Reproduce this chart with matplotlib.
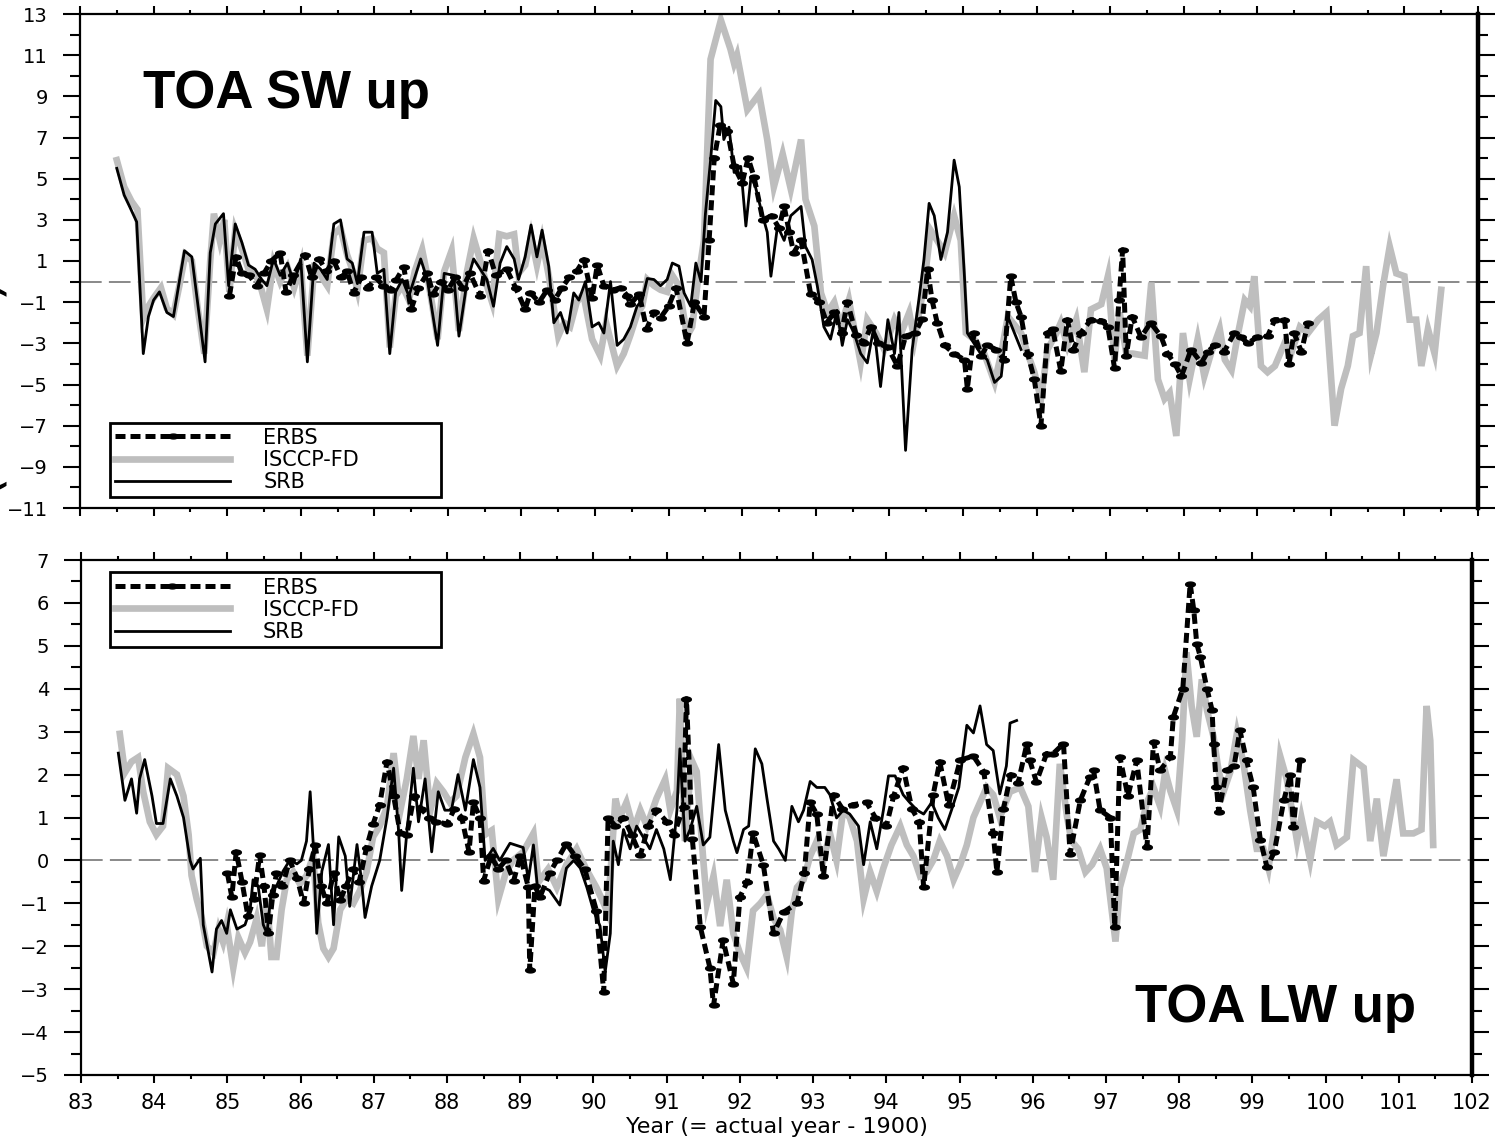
import matplotlib
matplotlib.use("Agg")
import matplotlib.pyplot as plt
import numpy as np
from matplotlib.lines import Line2D
from matplotlib.path import Path
from matplotlib.ticker import MultipleLocator

# ---------------- data: (year - 1900, anomaly) ----------------
# TOA SW up
sw_isccp = [
    (83.50, 5.9), (83.60, 4.6), (83.70, 3.9), (83.78, 3.5), (83.86, -1.8), (83.93, -1.2), (84.00, -0.8),
    (84.10, -0.3), (84.18, -1.3), (84.27, -1.6), (84.35, -0.2), (84.43, 1.3), (84.52, 1.0), (84.60, -1.3),
    (84.69, -3.5), (84.77, 1.0), (84.82, 3.3), (84.90, 2.0), (84.96, 3.0), (85.03, -0.5), (85.11, 2.5),
    (85.20, 1.6), (85.29, 0.6), (85.38, 0.4), (85.46, -0.3), (85.54, -1.35), (85.63, 0.9), (85.72, 0.0),
    (85.82, 0.7), (85.91, -0.3), (86.00, 0.8), (86.09, -3.6), (86.18, 0.6), (86.27, 0.3), (86.36, -0.2),
    (86.45, 2.3), (86.54, 2.6), (86.63, 1.3), (86.70, 0.6), (86.77, -0.4), (86.86, 2.0), (86.97, 2.1),
    (87.04, 1.6), (87.13, 1.4), (87.21, -3.2), (87.29, -0.7), (87.38, -0.2), (87.47, -0.9), (87.55, 0.5),
    (87.65, 1.55), (87.72, 0.3), (87.79, -1.2), (87.86, -2.8), (87.95, 0.5), (88.05, 1.5), (88.15, -2.4),
    (88.26, 0.5), (88.35, 2.1), (88.44, 1.0), (88.53, -0.2), (88.60, -1.0), (88.70, 2.3), (88.80, 2.2),
    (88.90, 2.3), (88.96, 0.4), (89.05, 0.8), (89.13, 2.2), (89.21, 0.8), (89.28, 2.0), (89.37, 0.3),
    (89.50, -2.65), (89.58, -2.0), (89.66, -2.2), (89.75, -1.0), (89.84, -0.6), (89.96, -2.8), (90.07, -3.6),
    (90.15, -2.0), (90.30, -4.1), (90.39, -3.5), (90.48, -2.6), (90.57, -1.6), (90.64, -1.2), (90.71, 0.1),
    (90.80, -0.2), (90.89, -0.4), (90.98, -0.5), (91.05, 0.3), (91.14, -0.2), (91.25, -2.65), (91.32, -2.2),
    (91.40, 0.1), (91.48, 2.0), (91.57, 10.8), (91.71, 12.7), (91.84, 11.3), (91.89, 10.6), (91.93, 11.0),
    (92.07, 8.35), (92.23, 9.1), (92.34, 6.9), (92.43, 4.6), (92.55, 6.2), (92.66, 4.5), (92.80, 6.9),
    (92.86, 4.0), (92.98, 2.7), (93.07, -0.55), (93.16, -1.5), (93.25, -1.0), (93.34, -2.2), (93.45, -0.9),
    (93.61, -3.95), (93.70, -1.85), (93.82, -2.5), (93.93, -3.3), (94.07, -1.85), (94.16, -2.5), (94.27, -1.5),
    (94.34, -2.8), (94.47, -0.2), (94.56, 2.5), (94.65, 2.0), (94.75, 1.4), (94.88, 3.2), (94.97, 2.0),
    (95.04, -2.5), (95.15, -2.8), (95.29, -3.5), (95.43, -4.9), (95.52, -3.5), (95.61, -1.7), (95.79, -2.5),
    (95.88, -3.5), (95.97, -4.4), (96.06, -5.7), (96.15, -3.3), (96.27, -2.5), (96.33, -2.0), (96.42, -3.1),
    (96.54, -1.85), (96.65, -4.4), (96.74, -1.35), (96.88, -1.1), (96.97, 0.26), (97.06, -3.8), (97.13, -1.5),
    (97.22, -3.5), (97.31, -3.5), (97.47, -3.6), (97.56, -0.05), (97.65, -4.75), (97.74, -5.7), (97.81, -5.4),
    (97.90, -7.5), (97.99, -2.5), (98.08, -4.75), (98.19, -2.8), (98.28, -4.6), (98.37, -3.5), (98.49, -2.3),
    (98.56, -3.8), (98.65, -4.3), (98.74, -2.5), (98.83, -0.9), (98.90, -1.2), (98.96, 0.26), (99.05, -4.1),
    (99.14, -4.4), (99.24, -4.1), (99.37, -3.0), (99.46, -3.5), (99.58, -2.2), (99.69, -2.5), (99.83, -1.85),
    (99.94, -1.5), (100.05, -7.0), (100.14, -5.2), (100.23, -4.1), (100.30, -2.65), (100.39, -2.5),
    (100.48, 0.75), (100.55, -3.5), (100.62, -2.5), (100.71, -0.2), (100.80, 1.7), (100.89, 0.4),
    (101.00, 0.26), (101.07, -1.85), (101.16, -1.85), (101.23, -4.1), (101.32, -2.3), (101.41, -3.5),
    (101.50, -0.4),
]

sw_srb = [
    (83.50, 5.5), (83.60, 4.2), (83.68, 3.6), (83.77, 2.9), (83.86, -3.5), (83.93, -1.7), (84.00, -0.9),
    (84.08, -0.5), (84.18, -1.5), (84.27, -1.7), (84.42, 1.5), (84.52, 1.2), (84.70, -3.9), (84.77, 1.4),
    (84.84, 2.8), (84.95, 3.3), (85.02, -0.2), (85.11, 2.8), (85.20, 1.9), (85.29, 0.8), (85.38, 0.6),
    (85.47, 0.1), (85.54, -0.2), (85.63, 1.1), (85.72, 0.3), (85.82, 0.9), (85.91, -0.1), (86.00, 1.1),
    (86.09, -3.9), (86.18, 0.9), (86.27, 0.6), (86.36, 0.1), (86.45, 2.8), (86.54, 3.0), (86.63, 1.1),
    (86.70, 0.9), (86.77, -0.1), (86.86, 2.4), (86.97, 2.4), (87.04, 0.4), (87.13, 0.6), (87.21, -3.5),
    (87.29, -0.5), (87.38, 0.1), (87.47, -0.7), (87.55, 0.2), (87.63, 1.1), (87.72, 0.1), (87.79, -1.5),
    (87.86, -3.1), (87.95, 0.4), (88.08, 0.3), (88.15, -2.65), (88.26, 0.0), (88.35, 1.1), (88.44, 0.6),
    (88.53, 0.1), (88.62, -1.2), (88.71, 0.9), (88.80, 1.7), (88.90, 1.1), (88.96, 0.1), (89.05, 1.2),
    (89.13, 2.75), (89.21, 1.2), (89.28, 2.5), (89.37, 0.75), (89.44, -2.0), (89.53, -1.5), (89.62, -2.5),
    (89.71, -0.55), (89.78, -0.9), (89.87, 0.0), (89.96, -2.2), (90.05, -2.0), (90.12, -2.5), (90.21, 0.0),
    (90.30, -3.1), (90.39, -2.8), (90.48, -2.2), (90.57, -1.2), (90.64, -0.9), (90.71, 0.15), (90.80, 0.1),
    (90.89, -0.2), (90.98, 0.1), (91.05, 0.9), (91.14, 0.75), (91.21, -0.55), (91.30, -1.2), (91.37, 0.9),
    (91.44, 0.0), (91.50, 3.3), (91.57, 5.9), (91.64, 8.8), (91.71, 8.5), (91.75, 6.9), (91.82, 7.5),
    (91.89, 5.3), (91.98, 5.6), (92.05, 2.7), (92.12, 5.1), (92.18, 4.6), (92.27, 3.3), (92.34, 2.4),
    (92.39, 0.26), (92.48, 2.7), (92.57, 2.0), (92.66, 3.2), (92.80, 3.65), (92.86, 1.7), (92.95, 1.07),
    (93.02, -0.2), (93.11, -2.2), (93.20, -2.8), (93.29, -1.4), (93.36, -3.1), (93.43, -1.85), (93.52, -2.5),
    (93.61, -3.5), (93.70, -3.95), (93.79, -2.2), (93.88, -5.1), (93.98, -1.85), (94.07, -3.5), (94.13, -1.5),
    (94.22, -8.2), (94.31, -3.3), (94.40, -0.9), (94.47, 1.07), (94.54, 3.8), (94.61, 3.2), (94.70, 1.07),
    (94.79, 2.4), (94.88, 5.9), (94.95, 4.6), (95.02, 0.26), (95.06, -2.5), (95.15, -3.0), (95.24, -3.5),
    (95.33, -3.8), (95.43, -4.9), (95.52, -4.6), (95.61, -1.7), (95.70, -2.5), (95.79, -3.3),
]

sw_erbs = [
    (85.03, -0.7), (85.12, 1.2), (85.20, 0.4), (85.30, 0.3), (85.40, -0.2), (85.50, 0.4), (85.60, 1.0),
    (85.72, 1.4), (85.80, -0.5), (85.90, 0.3), (86.06, 1.3), (86.15, 0.2), (86.25, 1.1), (86.35, 0.5),
    (86.45, 1.0), (86.55, 0.2), (86.63, 0.5), (86.72, -0.55), (86.82, 0.2), (86.92, -0.3), (87.02, 0.2),
    (87.12, -0.2), (87.22, -0.4), (87.30, 0.1), (87.40, 0.7), (87.50, -1.35), (87.60, -0.3), (87.72, 0.4),
    (87.80, -0.6), (87.90, 0.0), (88.00, -0.4), (88.10, 0.2), (88.20, -0.3), (88.30, 0.4), (88.44, -0.7),
    (88.55, 1.5), (88.65, 0.3), (88.80, 0.6), (88.92, -0.3), (89.05, -1.35), (89.12, -0.55), (89.24, -1.0),
    (89.35, -0.4), (89.45, -0.9), (89.55, -0.3), (89.65, 0.2), (89.75, 0.5), (89.85, 1.07), (89.96, -0.8),
    (90.03, 0.8), (90.12, -0.2), (90.25, -0.4), (90.35, -0.3), (90.44, -0.7), (90.48, -1.1), (90.60, -0.6),
    (90.70, -2.3), (90.80, -1.5), (90.89, -1.75), (91.00, -1.2), (91.10, -0.3), (91.25, -3.0), (91.35, -1.0),
    (91.48, -1.7), (91.55, 2.0), (91.62, 6.0), (91.70, 7.6), (91.80, 7.3), (91.89, 5.6), (92.00, 4.8),
    (92.08, 6.0), (92.16, 5.1), (92.28, 3.0), (92.40, 3.2), (92.50, 2.6), (92.57, 3.65), (92.64, 2.4),
    (92.70, 1.4), (92.80, 2.0), (92.93, -0.6), (93.05, -1.0), (93.15, -2.0), (93.25, -1.5), (93.35, -2.5),
    (93.43, -1.0), (93.55, -2.6), (93.65, -3.0), (93.75, -2.2), (93.85, -3.0), (93.98, -3.2), (94.11, -4.1),
    (94.22, -2.65), (94.35, -2.5), (94.45, -1.8), (94.52, 0.6), (94.58, -0.9), (94.65, -2.0), (94.75, -3.1),
    (94.88, -3.5), (95.02, -3.8), (95.06, -5.2), (95.15, -2.5), (95.25, -3.6), (95.33, -3.1), (95.45, -3.3),
    (95.56, -3.8), (95.65, 0.26), (95.72, -1.0), (95.79, -1.7), (95.88, -3.5), (95.97, -4.75), (96.06, -7.0),
    (96.15, -2.5), (96.22, -2.3), (96.33, -4.35), (96.42, -1.85), (96.50, -3.3), (96.60, -2.5), (96.74, -1.85),
    (96.88, -1.9), (96.97, -2.2), (97.06, -4.2), (97.12, -0.9), (97.17, 1.55), (97.22, -3.6), (97.30, -1.7),
    (97.42, -2.7), (97.55, -2.0), (97.69, -2.65), (97.78, -3.5), (97.88, -4.0), (97.97, -4.6), (98.10, -3.3),
    (98.24, -3.95), (98.33, -3.4), (98.42, -3.1), (98.55, -3.4), (98.69, -2.5), (98.78, -2.7), (98.87, -3.0),
    (99.00, -2.7), (99.14, -2.65), (99.24, -1.85), (99.37, -1.85), (99.43, -4.0), (99.50, -2.5), (99.60, -3.4),
    (99.69, -2.0),
]

# TOA LW up
lw_isccp = [
    (83.53, 2.95), (83.60, 2.05), (83.69, 2.3), (83.78, 2.4), (83.85, 1.6), (83.94, 0.9), (84.03, 0.6),
    (84.12, 0.8), (84.19, 2.15), (84.31, 2.0), (84.40, 1.5), (84.47, 0.6), (84.51, -0.35), (84.58, -0.9),
    (84.65, -1.35), (84.72, -2.0), (84.81, -2.15), (84.88, -1.6), (84.94, -1.9), (84.99, -1.5), (85.08, -2.5),
    (85.15, -1.8), (85.24, -2.15), (85.31, -1.9), (85.40, -1.35), (85.47, -2.0), (85.54, -0.9), (85.60, -2.25),
    (85.67, -2.25), (85.74, -1.15), (85.81, -0.45), (85.90, -0.27), (85.99, -0.55), (86.08, -0.36), (86.17, 0.1),
    (86.24, -1.45), (86.31, -2.05), (86.38, -2.25), (86.45, -2.05), (86.54, -1.15), (86.63, -0.9), (86.72, -1.0),
    (86.81, -0.7), (86.90, -0.27), (86.99, 0.55), (87.08, 0.8), (87.18, 1.25), (87.27, 2.5), (87.36, 1.15),
    (87.45, 1.9), (87.54, 2.9), (87.61, 1.9), (87.68, 2.8), (87.77, 1.15), (87.86, 1.8), (87.95, 1.6),
    (88.04, 1.35), (88.13, 1.5), (88.25, 2.4), (88.36, 2.95), (88.45, 2.4), (88.52, 0.6), (88.61, 0.7),
    (88.70, -0.9), (88.80, -0.3), (88.90, 0.0), (89.04, 0.2), (89.18, 0.63), (89.25, -0.5), (89.38, -0.2),
    (89.50, -0.63), (89.63, -0.1), (89.77, 0.27), (89.90, -0.2), (90.04, -0.63), (90.14, -1.0), (90.18, -1.17),
    (90.23, -0.36), (90.30, 1.44), (90.36, 1.0), (90.45, 1.35), (90.55, 0.72), (90.64, 1.17), (90.73, 0.8),
    (90.86, 1.44), (90.98, 1.89), (91.05, 1.17), (91.14, 1.62), (91.18, 3.77), (91.25, 0.45), (91.34, 2.34),
    (91.41, 2.07), (91.50, 0.0), (91.55, -1.0), (91.64, -0.36), (91.73, -1.53), (91.82, -0.45), (91.91, -1.7),
    (92.00, -2.16), (92.09, -2.5), (92.18, -1.17), (92.28, -1.0), (92.37, -0.8), (92.46, -1.35), (92.55, -1.62),
    (92.64, -2.25), (92.71, -1.17), (92.78, -0.63), (92.87, -0.45), (92.96, 0.1), (93.05, 0.45), (93.14, 0.0),
    (93.23, 0.63), (93.32, 0.0), (93.41, 1.17), (93.50, 1.0), (93.60, 0.45), (93.69, -0.9), (93.78, -0.27),
    (93.87, -0.72), (93.96, -0.18), (94.07, 0.36), (94.19, 0.8), (94.28, 0.36), (94.37, 0.1), (94.46, -0.36),
    (94.55, -0.27), (94.64, 0.0), (94.73, 0.45), (94.83, 0.1), (94.92, -0.45), (95.01, -0.1), (95.10, 0.36),
    (95.19, 1.0), (95.28, 1.35), (95.37, 1.7), (95.46, 1.53), (95.55, 1.0), (95.69, 1.6), (95.83, 1.7),
    (95.94, 1.26), (96.03, -0.27), (96.12, 1.0), (96.19, 0.54), (96.28, -0.45), (96.37, 2.25), (96.47, 1.0),
    (96.53, 0.45), (96.62, 0.27), (96.72, -0.27), (96.81, -0.1), (96.92, 0.27), (97.01, -0.18), (97.08, -1.17),
    (97.13, -1.89), (97.19, -0.63), (97.29, 0.0), (97.38, 0.63), (97.47, 0.72), (97.56, 1.35), (97.65, 1.7),
    (97.74, 1.26), (97.81, 2.07), (97.88, 1.62), (97.97, 1.17), (98.04, 2.79), (98.10, 4.85), (98.17, 3.6),
    (98.24, 2.88), (98.31, 4.22), (98.38, 3.5), (98.47, 2.88), (98.54, 2.07), (98.61, 1.62), (98.70, 2.07),
    (98.79, 2.97), (98.88, 2.25), (98.97, 1.17), (99.06, 0.27), (99.15, 0.27), (99.22, -0.18), (99.29, 0.63),
    (99.38, 2.43), (99.47, 1.89), (99.54, 1.17), (99.61, 0.45), (99.67, 1.0), (99.79, 0.0), (99.88, 0.9),
    (99.99, 0.8), (100.06, 0.9), (100.15, 0.36), (100.29, 0.54), (100.38, 2.34), (100.52, 2.16), (100.61, 0.45),
    (100.70, 1.44), (100.79, 0.1), (100.88, 1.0), (100.97, 1.89), (101.06, 0.63), (101.20, 0.63), (101.31, 0.72),
    (101.38, 3.6), (101.43, 2.79), (101.47, 0.36),
]

lw_srb = [
    (83.51, 2.5), (83.60, 1.4), (83.69, 1.9), (83.76, 1.1), (83.80, 1.9), (83.87, 2.35), (83.97, 1.5),
    (84.03, 0.86), (84.12, 0.86), (84.22, 1.9), (84.31, 1.5), (84.40, 1.0), (84.49, 0.0), (84.53, -0.2),
    (84.63, 0.05), (84.67, -1.5), (84.79, -2.6), (84.85, -1.6), (84.92, -1.4), (84.99, -1.7), (85.04, -1.15),
    (85.13, -1.6), (85.24, -1.5), (85.31, -1.15), (85.35, -0.45), (85.42, -0.6), (85.49, -1.5), (85.54, -1.7),
    (85.60, -0.7), (85.67, -0.6), (85.76, -0.25), (85.85, 0.0), (85.95, -0.08), (86.01, 0.0), (86.08, 0.45),
    (86.13, 1.6), (86.17, 0.45), (86.22, -1.7), (86.29, -0.25), (86.38, 0.37), (86.45, -1.5), (86.52, 0.55),
    (86.61, 0.1), (86.67, -1.07), (86.77, 0.37), (86.83, -0.45), (86.88, -1.33), (86.97, -0.6), (87.08, 0.0),
    (87.18, 1.0), (87.27, 2.15), (87.34, 0.64), (87.38, -0.7), (87.45, 0.64), (87.54, 2.15), (87.61, 0.9),
    (87.70, 1.9), (87.79, 0.2), (87.88, 1.6), (87.97, 1.17), (88.06, 1.17), (88.15, 2.0), (88.25, 1.17),
    (88.36, 2.35), (88.45, 1.7), (88.52, 0.0), (88.63, 0.28), (88.72, 0.0), (88.86, 0.4), (89.04, 0.3),
    (89.11, -0.45), (89.18, 0.36), (89.25, -0.9), (89.32, -0.63), (89.40, -0.7), (89.54, -1.04), (89.63, -0.18),
    (89.73, 0.0), (89.82, -0.18), (89.91, -0.63), (90.00, -1.17), (90.09, -1.53), (90.16, -2.6), (90.23, -1.7),
    (90.27, 0.45), (90.34, -0.1), (90.41, 0.72), (90.50, 0.27), (90.59, 0.8), (90.68, 0.54), (90.77, 0.27),
    (90.86, 0.72), (90.96, 0.27), (91.05, -0.45), (91.14, 1.17), (91.18, 2.6), (91.25, 0.45), (91.32, 0.72),
    (91.41, 1.26), (91.50, 0.36), (91.59, 0.54), (91.71, 2.7), (91.80, 1.17), (91.91, 0.45), (91.96, 0.18),
    (92.05, 0.72), (92.12, 0.8), (92.21, 2.6), (92.30, 2.25), (92.37, 1.44), (92.46, 0.45), (92.53, 0.27),
    (92.62, 0.0), (92.71, 1.26), (92.80, 0.9), (92.87, 1.17), (92.96, 1.84), (93.05, 1.7), (93.16, 1.7),
    (93.23, 1.53), (93.32, 0.99), (93.41, 1.17), (93.50, 1.08), (93.62, 0.8), (93.69, -0.1), (93.78, 0.9),
    (93.87, 0.27), (93.96, 1.17), (94.03, 1.97), (94.12, 1.97), (94.23, 1.53), (94.32, 1.35), (94.42, 1.17),
    (94.51, 1.08), (94.62, 1.35), (94.71, 0.99), (94.80, 0.72), (94.89, 1.17), (94.99, 1.7), (95.05, 2.5),
    (95.10, 3.15), (95.19, 2.97), (95.28, 3.6), (95.37, 2.7), (95.46, 2.56), (95.55, 1.55), (95.64, 2.2),
    (95.69, 3.2), (95.78, 3.26),
]

lw_erbs = [
    (85.00, -0.3), (85.06, -0.85), (85.12, 0.2), (85.20, -0.5), (85.28, -1.3), (85.36, -0.9), (85.44, 0.12),
    (85.50, -0.6), (85.56, -1.7), (85.62, -0.8), (85.67, -0.3), (85.75, -0.6), (85.85, 0.0), (85.95, -0.4),
    (86.04, -1.0), (86.12, -0.2), (86.20, 0.35), (86.28, -0.6), (86.36, -1.0), (86.45, -0.3), (86.54, -0.93),
    (86.62, -0.6), (86.72, -0.2), (86.80, -0.5), (86.90, 0.3), (86.99, 0.85), (87.08, 1.3), (87.18, 2.3),
    (87.27, 1.5), (87.36, 0.64), (87.45, 0.6), (87.55, 1.5), (87.65, 1.2), (87.75, 1.0), (87.85, 0.9),
    (88.00, 0.85), (88.10, 1.2), (88.20, 1.0), (88.30, 0.2), (88.36, 1.35), (88.45, 1.0), (88.50, -0.47),
    (88.60, 0.1), (88.70, -0.2), (88.80, 0.0), (88.91, -0.47), (89.00, 0.1), (89.11, -0.62), (89.13, -2.56),
    (89.20, -0.6), (89.27, -0.85), (89.40, -0.3), (89.50, 0.0), (89.63, 0.39), (89.75, 0.1), (89.88, -0.2),
    (90.04, -1.17), (90.14, -3.07), (90.20, 1.0), (90.30, 0.8), (90.41, 1.0), (90.52, 0.6), (90.64, 0.12),
    (90.75, 0.8), (90.86, 1.17), (91.00, 0.9), (91.10, 0.6), (91.23, 1.24), (91.27, 3.77), (91.35, 0.5),
    (91.46, -1.55), (91.59, -2.5), (91.64, -3.38), (91.77, -1.86), (91.91, -2.87), (92.00, -0.85), (92.10, -0.5),
    (92.18, 0.63), (92.32, -0.1), (92.46, -1.7), (92.60, -1.2), (92.78, -1.0), (92.88, -0.3), (92.96, 1.35),
    (93.05, 1.08), (93.14, -0.36), (93.28, 1.53), (93.40, 1.2), (93.55, 1.3), (93.73, 1.35), (93.85, 1.0),
    (94.00, 0.8), (94.10, 1.5), (94.23, 2.16), (94.35, 1.2), (94.45, 0.9), (94.51, -0.63), (94.64, 1.53),
    (94.73, 2.3), (94.85, 1.3), (95.01, 2.34), (95.19, 2.43), (95.33, 2.07), (95.46, 0.63), (95.51, -0.27),
    (95.60, 1.2), (95.70, 2.0), (95.80, 1.8), (95.92, 2.72), (95.96, 2.33), (96.05, 1.83), (96.19, 2.49),
    (96.28, 2.49), (96.42, 2.72), (96.51, 0.16), (96.65, 1.4), (96.78, 1.94), (96.83, 2.1), (96.92, 1.17),
    (97.06, 1.0), (97.12, -1.55), (97.19, 2.41), (97.30, 1.5), (97.42, 2.33), (97.56, 0.31), (97.65, 2.76),
    (97.74, 2.1), (97.88, 2.41), (97.92, 3.34), (98.05, 4.0), (98.15, 6.45), (98.20, 5.83), (98.24, 5.05),
    (98.29, 4.74), (98.38, 4.0), (98.45, 3.5), (98.47, 2.72), (98.51, 1.71), (98.54, 1.13), (98.65, 2.1),
    (98.75, 2.2), (98.83, 3.03), (98.92, 2.33), (99.01, 1.71), (99.11, 0.47), (99.20, -0.16), (99.30, 0.2),
    (99.43, 1.4), (99.52, 2.0), (99.56, 0.78), (99.65, 2.33),
]

labels = ["ERBS", "ISCCP-FD", "SRB"]
year_ticks = list(range(83, 103))

# ---------------- styles ----------------
gray = "#bebebe"
t = np.linspace(0, 2 * np.pi, 40)
ellipse = Path(np.column_stack([np.cos(t), 0.5 * np.sin(t)]))
erbs_style = dict(color="black", lw=3.6, linestyle=(0, (2.0, 1.0)), marker=ellipse, ms=7,
                  mfc="black", mec="black", dash_capstyle="butt")
isccp_style = dict(color=gray, lw=4.8, solid_joinstyle="miter")
srb_style = dict(color="black", lw=2.0)

fig = plt.figure(figsize=(15.03, 11.45), dpi=100)
ax1 = fig.add_axes([80 / 1503, 1 - 508 / 1145, 1398 / 1503, 494 / 1145])
ax2 = fig.add_axes([81 / 1503, 1 - 1075 / 1145, 1391 / 1503, 515 / 1145])


def draw(ax, isccp, srb, erbs):
    ax.axhline(0, color="#808080", lw=1.3, linestyle=(0, (12, 4)), zorder=1)
    x, y = zip(*isccp)
    ax.plot(x, y, zorder=2, **isccp_style)
    x, y = zip(*erbs)
    ax.plot(x, y, zorder=3, **erbs_style)
    x, y = zip(*srb)
    ax.plot(x, y, zorder=4, **srb_style)
    ax.set_xlim(83, 102)
    ax.set_xticks(year_ticks)
    ax.xaxis.set_minor_locator(MultipleLocator(0.5))
    ax.tick_params(which="both", direction="out", top=True, right=True, width=1.5,
                   labelsize=14, colors="black")
    ax.tick_params(axis="x", which="major", length=6)
    ax.tick_params(axis="x", which="minor", length=3)
    ax.tick_params(axis="y", which="major", length=12, pad=11)
    ax.tick_params(axis="y", which="minor", length=7)
    for s in ax.spines.values():
        s.set_linewidth(1.6)
    ax.spines["right"].set_linewidth(3.2)


draw(ax1, sw_isccp, sw_srb, sw_erbs)
ax1.set_ylim(-11, 13)
ax1.set_yticks(range(-11, 14, 2))
ax1.yaxis.set_minor_locator(MultipleLocator(1))
ax1.tick_params(axis="x", labelbottom=False)

draw(ax2, lw_isccp, lw_srb, lw_erbs)
ax2.set_ylim(-5, 7)
ax2.set_yticks(range(-5, 8))
ax2.yaxis.set_minor_locator(MultipleLocator(0.5))
ax2.tick_params(axis="x", labelsize=15, pad=7)
ax2.set_xlabel("Year (= actual year - 1900)", fontsize=16, labelpad=3)

# legends
handles = [
    Line2D([], [], **erbs_style),
    Line2D([], [], **isccp_style),
    Line2D([], [], **srb_style),
]
for ax, box in [(ax1, (0.0215, 0.022, 0.2365, 0.146)), (ax2, (0.0208, 0.831, 0.2382, 0.146))]:
    leg = ax.legend(handles, labels, loc="lower left", bbox_to_anchor=box, mode="expand",
                    borderaxespad=0, numpoints=1, handlelength=5.5, handletextpad=1.6,
                    labelspacing=0.1, fontsize=15, fancybox=False, framealpha=1,
                    edgecolor="black", borderpad=0.25)
    leg.get_frame().set_linewidth(2.0)
    leg.set_zorder(10)

title_font = dict(family="Liberation Sans", weight="bold", fontsize=38)
ax1.text(0.045, 0.81, "TOA SW up", transform=ax1.transAxes, ha="left", va="baseline", **title_font)
ax2.text(0.758, 0.103, "TOA LW up", transform=ax2.transAxes, ha="left", va="baseline", **title_font)

# y label: in the reference it sits mostly beyond the left edge
fig.text(13 / 1503, 1 - 390 / 1145, "(W m$^{-2}$)", rotation=90, fontsize=38,
         ha="right", va="center")

fig.savefig("out.png", dpi=100)
